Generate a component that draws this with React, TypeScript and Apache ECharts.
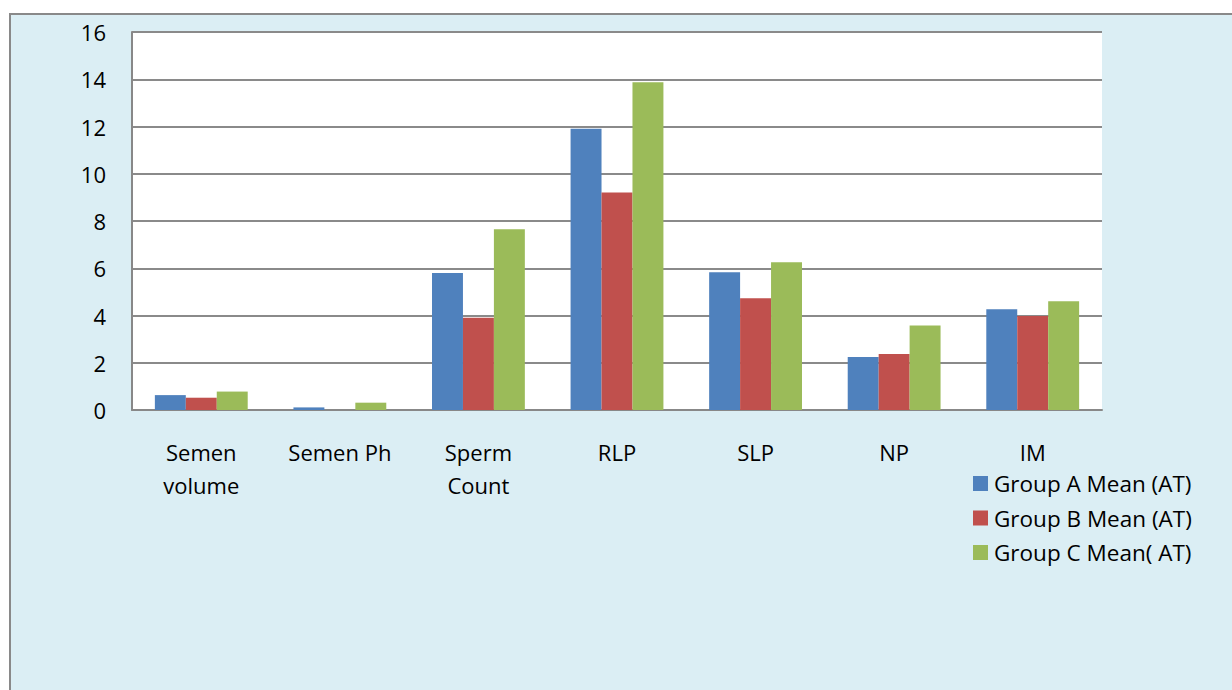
import React, { useEffect, useRef } from "react";
import * as echarts from "echarts";

const categories = ["Semen\nvolume", "Semen Ph", "Sperm\nCount", "RLP", "SLP", "NP", "IM"];
const groupA = [0.63, 0.11, 5.8, 11.9, 5.83, 2.24, 4.26];
const groupB = [0.52, 0, 3.9, 9.21, 4.73, 2.37, 3.98];
const groupC = [0.78, 0.31, 7.65, 13.87, 6.25, 3.58, 4.6];
const seriesNames = ["Group A Mean (AT)", "Group B Mean (AT)", "Group C Mean( AT)"];
const colors = ["#4F81BD", "#C0504D", "#9BBB59"];

const FONT = "'Open Sans', 'Noto Sans', sans-serif";

export default function App() {
  const ref = useRef<HTMLDivElement>(null);
  useEffect(() => {
    if (!ref.current) return;
    const chart = echarts.init(ref.current, undefined, { renderer: "svg" });
    const data = [groupA, groupB, groupC];
    chart.setOption({
      animation: false,
      backgroundColor: "#ffffff",
      textStyle: { fontFamily: FONT },
      graphic: [
        {
          type: "rect",
          left: 9,
          top: 13,
          shape: { width: 1240, height: 700 },
          style: { fill: "#DBEEF4", stroke: "#898989", lineWidth: 2 },
          z: -10,
          silent: true,
        },
      ],
      grid: {
        left: 132,
        top: 32,
        right: 130,
        bottom: 280,
        show: true,
        backgroundColor: "#ffffff",
        borderWidth: 0,
      },
      legend: {
        orient: "vertical",
        left: 968,
        top: 467,
        itemWidth: 15,
        itemHeight: 15,
        itemGap: 11.5,
        icon: "rect",
        data: seriesNames,
        textStyle: { fontSize: 22.5, color: "#000", fontFamily: FONT, padding: [0, 0, 0, 1] },
      },
      xAxis: {
        type: "category",
        data: categories,
        axisLine: { lineStyle: { color: "#888", width: 2 } },
        axisTick: { show: false },
        axisLabel: { fontSize: 22, color: "#000", lineHeight: 33, margin: 25, interval: 0, fontFamily: FONT },
      },
      yAxis: {
        type: "value",
        min: 0,
        max: 16,
        interval: 2,
        axisLine: { show: true, lineStyle: { color: "#888", width: 2 } },
        axisTick: { show: false },
        axisLabel: { fontSize: 22, color: "#000", margin: 26, fontFamily: FONT },
        splitLine: { lineStyle: { color: "#8a8a8a", width: 2 } },
      },
      series: data.map((d, i) => ({
        name: seriesNames[i],
        type: "bar",
        data: d,
        barGap: "0%",
        barCategoryGap: "33%",
        itemStyle: { color: colors[i] },
      })),
    });
    return () => chart.dispose();
  }, []);
  return <div ref={ref} style={{ position: "fixed", left: 0, top: 0, width: 1232, height: 690 }} />;
}
